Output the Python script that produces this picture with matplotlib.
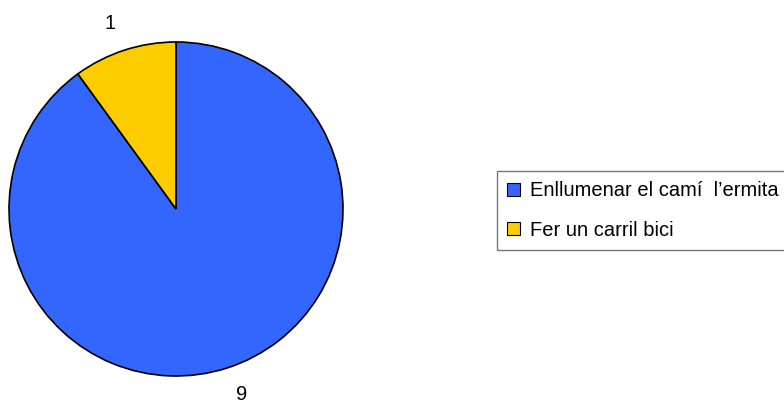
import matplotlib.pyplot as plt
from matplotlib.patches import Patch

plt.rcParams['font.family'] = ['Liberation Sans', 'DejaVu Sans']

labels = ['Enllumenar el camí  l’ermita', 'Fer un carril bici']
values = [9, 1]
colors = ['#3366FF', '#FFCC00']

W, H = 784, 405
fig = plt.figure(figsize=(W / 100, H / 100), dpi=100)

# pie centre (176, 209) px from top, radius ~167 px
cx, cy, r = 176, H - 209, 167
hw, hh = 176, 196
ax = fig.add_axes([(cx - hw) / W, (cy - hh) / H, 2 * hw / W, 2 * hh / H])

wedges, texts = ax.pie(values, labels=[str(v) for v in values], colors=colors,
                       startangle=90, counterclock=False, labeldistance=1.17,
                       wedgeprops=dict(edgecolor='black', linewidth=1.2),
                       textprops=dict(fontsize=14.5), radius=1)
ax.set_xlim(-hw / r, hw / r)
ax.set_ylim(-hh / r, hh / r)
ax.set_aspect('equal')
ax.axis('off')

handles = [Patch(facecolor=c, edgecolor='black', linewidth=0.8) for c in colors]
fig.legend(handles, labels, loc='upper left', bbox_to_anchor=(497 / W, 1 - 171 / H),
           frameon=True, fancybox=False, edgecolor='#555555', fontsize=14.5,
           handlelength=0.6, handleheight=0.6, handletextpad=0.5,
           labelspacing=1.0, borderpad=0.52, borderaxespad=0)

fig.savefig('out.png', dpi=100)
